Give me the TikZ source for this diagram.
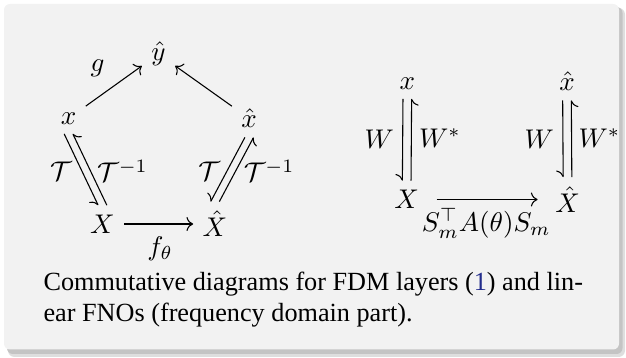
\documentclass[tikz,border=0pt]{standalone}
\usepackage{fontspec}
\setmainfont{Liberation Serif}
\usetikzlibrary{arrows.meta}

\definecolor{boxgray}{RGB}{242,242,242}
\definecolor{shadowgray}{RGB}{196,196,196}
\definecolor{shadowlight}{RGB}{222,222,222}
\definecolor{refblue}{RGB}{35,45,140}

\begin{document}
\begin{tikzpicture}[x=0.37pt, y=-0.37pt, >={Computer Modern Rightarrow},
		hp/.style={-{Computer Modern Rightarrow[harpoon,swap]}}]
		
		\useasboundingbox (0,0) rectangle (626,358);
		\fill[shadowlight, rounded corners=2.4pt] (8,8) rectangle (625,357);
		\fill[shadowgray, rounded corners=2.2pt] (7,7) rectangle (622.5,354);
		\fill[boxgray, rounded corners=2.2pt] (4,4) rectangle (619,349.5);
		
		% FDM layer
		\node (yh) at (158.5,54) {$\hat{y}$};
		\node (x) at (68.5,118.5) {$x$};
		\node (xh) at (249.2,118.5) {$\hat{x}$};
		\node (X) at (102.5,224) {$X$};
		\node (Xh) at (215,224) {$\hat{X}$};
		
		\node (g) at (97.5,68.3) {$g$};
		\node (ft) at (160,249) {$f_\theta$};
		\node (T1) at (60.8,170.8) {$\mathcal{T}$};
		\node (Ti1) at (122.5,171) {$\mathcal{T}^{-1}$};
		\node (T2) at (209.2,170.8) {$\mathcal{T}$};
		\node (Ti2) at (269.2,171) {$\mathcal{T}^{-1}$};
		
		\draw[->] (x) -- (yh);
		\draw[->] (xh) -- (yh);
		\draw[->] (X) -- (Xh);
		\draw[hp] ([xshift=-1.6pt]x.south) -- ([xshift=-1.6pt]X.north);
		\draw[hp] ([xshift=1.6pt]X.north) -- ([xshift=1.6pt]x.south);
		\draw[hp] ([xshift=-1.6pt]xh.south) -- ([xshift=-1.6pt]Xh.north);
		\draw[hp] ([xshift=1.6pt]Xh.north) -- ([xshift=1.6pt]xh.south);
		
		% linear FNO
		\node (x2) at (407.3,83.5) {$x$};
		\node (xh2) at (567,81.5) {$\hat{x}$};
		\node (X2) at (406.7,199.5) {$X$};
		\node (Xh2) at (567.5,199.5) {$\hat{X}$};
		
		\node (W1) at (379.2,139.1) {$W$};
		\node (Ws1) at (440,138.3) {$W^*$};
		\node (W2) at (539.2,139.1) {$W$};
		\node (Ws2) at (599.5,138.3) {$W^*$};
		\node (SAS) at (486.3,223.4) {$S_m^\top A(\theta) S_m$};
		
		\draw[->, shorten <=3pt, shorten >=3pt] (X2) -- (Xh2);
		\draw[hp] ([xshift=-1.6pt]x2.south) -- ([xshift=-1.6pt]X2.north);
		\draw[hp] ([xshift=1.6pt]X2.north) -- ([xshift=1.6pt]x2.south);
		\draw[hp] ([xshift=-1.6pt]xh2.south) -- ([xshift=-1.6pt]Xh2.north);
		\draw[hp] ([xshift=1.6pt]Xh2.north) -- ([xshift=1.6pt]xh2.south);
		
		\node[anchor=north west, inner sep=0pt, align=left,
		font=\fontsize{9.7}{11.5}\selectfont] (cap) at (43,271.8)
		{Commutative diagrams for FDM layers (\textcolor{refblue}{1}) and lin-\\ear FNOs (frequency domain part).};
		
\end{tikzpicture}
\end{document}
